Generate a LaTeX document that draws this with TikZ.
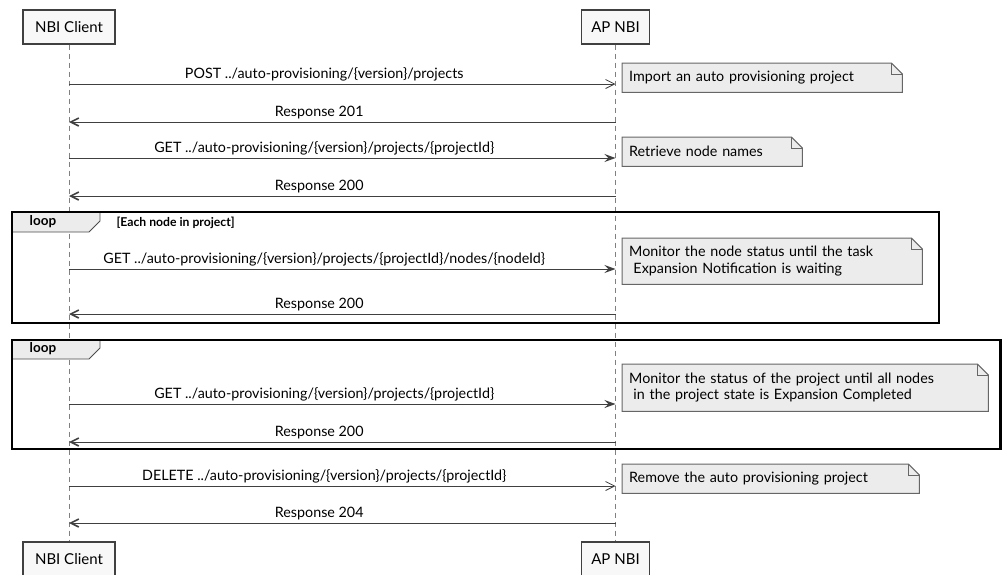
\documentclass[tikz,border=0pt]{standalone}
\usepackage{fontspec}
\setmainfont{Lato}
\usetikzlibrary{arrows.meta, positioning, calc, backgrounds}
\definecolor{linegray}{HTML}{404040}
\definecolor{notefill}{HTML}{ECECEC}
\definecolor{boxfill}{HTML}{F8F8F8}
\tikzset{
  x=1pt, y=-1pt,
  actor/.style={draw=linegray, line width=1.3pt, fill=boxfill, minimum height=34pt, font=\fontsize{15}{17}\selectfont},
  lifeline/.style={draw=gray, line width=0.8pt, dash pattern=on 5pt off 4pt},
  msg/.style={draw=linegray, line width=0.9pt},
  async/.style={msg, -{Straight Barb[length=9pt, width=9pt, line width=0.8pt]}},
  sync/.style={msg, -{Stealth[length=11pt, width=8pt, inset=4pt]}},
  reply/.style={msg, -{Straight Barb[length=8pt, width=8pt, line width=1.6pt]}},
  lbl/.style={above, inner sep=2.5pt, xshift=-18pt, font=\fontsize{14.3}{16}\selectfont},
  rlbl/.style={lbl, xshift=-5pt},
  note/.style={anchor=north west, inner xsep=7pt, inner ysep=0pt, align=left, font=\fontsize{14.3}{16.5}\selectfont},
  noteline/.style={draw=gray!80!black, fill=notefill, line width=1pt},
  frame/.style={draw=black, line width=2.2pt},
  tab/.style={draw=gray!60!black, fill=notefill, line width=0.8pt},
  looplbl/.style={font=\bfseries\fontsize{13.5}{15}\selectfont},
  condlbl/.style={anchor=west, font=\bfseries\fontsize{12.2}{14}\selectfont},
}

\begin{document}
\begin{tikzpicture}
  \useasboundingbox (0,0) rectangle (1002,574);

  \node[actor, minimum width=92pt] (client)  at (69,27)    {NBI Client};
  \node[actor, minimum width=68pt] (apnbi)   at (615.5,27) {AP NBI};
  \node[actor, minimum width=92pt] (client2) at (69,559)   {NBI Client};
  \node[actor, minimum width=68pt] (apnbi2)  at (615.5,559) {AP NBI};

  \draw[lifeline] (client) -- (client2);
  \draw[lifeline] (apnbi) -- (apnbi2);

  \foreach \row/\y in {post/84, created/122, getprj/158, prjok/196, getnode/269,
                      nodeok/314, poll/404, pollok/442, del/486, delok/523}
  {
    \coordinate (\row-c) at (client.south |- 0,\y);
    \coordinate (\row-a) at (apnbi.south |- 0,\y);
  }

  \draw[tab] (12,212) -- (100,212) -- (100,221) -- (89,232) -- (12,232) -- cycle;
  \draw[frame] (12,212) rectangle (939,323);
  \node[looplbl] (loopA) at (43,222) {loop};
  \node[condlbl] (condA) at (113,223) {[Each node in project]};

  \draw[tab] (12,340) -- (100,340) -- (100,348) -- (89,359) -- (12,359) -- cycle;
  \draw[frame] (12,340) rectangle (1000.5,449);
  \node[looplbl] (loopB) at (43,349) {loop};

  \draw[async] (post-c) -- node[lbl] {POST ../auto-provisioning/\{version\}/projects} (post-a);
  \draw[reply] (created-a) -- node[rlbl] {Response 201} (created-c);
  \draw[sync] (getprj-c) -- node[lbl] {GET ../auto-provisioning/\{version\}/projects/\{projectId\}} (getprj-a);
  \draw[reply] (prjok-a) -- node[rlbl] {Response 200} (prjok-c);
  \draw[sync] (getnode-c) -- node[lbl] {GET ../auto-provisioning/\{version\}/projects/\{projectId\}/nodes/\{nodeId\}} (getnode-a);
  \draw[reply] (nodeok-a) -- node[rlbl] {Response 200} (nodeok-c);
  \draw[sync] (poll-c) -- node[lbl] {GET ../auto-provisioning/\{version\}/projects/\{projectId\}} (poll-a);
  \draw[reply] (pollok-a) -- node[rlbl] {Response 200} (pollok-c);
  \draw[async] (del-c) -- node[lbl] {DELETE ../auto-provisioning/\{version\}/projects/\{projectId\}} (del-a);
  \draw[reply] (delok-a) -- node[rlbl] {Response 204} (delok-c);

  \node[note, text width=266pt, minimum height=29pt] (noteA) at (622,63) {Import an auto provisioning project};
  \node[note, text width=166pt, minimum height=29pt] (noteB) at (622,137) {Retrieve node names};
  \node[note, text width=286pt, minimum height=46pt] (noteC) at (622,238)
    {Monitor the node status until the task\\\hspace*{0.3em}Expansion Notification is waiting};
  \node[note, text width=352pt, minimum height=47pt] (noteD) at (622,364)
    {Monitor the status of the project until all nodes\\\hspace*{0.3em}in the project state is Expansion Completed};
  \node[note, text width=283pt, minimum height=29pt] (noteE) at (622,464) {Remove the auto provisioning project};

  \begin{scope}[on background layer]
    \foreach \n in {noteA, noteB, noteC, noteD, noteE}
    {
      \draw[noteline] (\n.north west) -- ($(\n.north east)+(-11,0)$) -- ($(\n.north east)+(0,11)$)
        -- (\n.south east) -- (\n.south west) -- cycle;
      \draw[noteline, fill=none] ($(\n.north east)+(-11,0)$) |- ($(\n.north east)+(0,11)$);
    }
  \end{scope}
\end{tikzpicture}
\end{document}
